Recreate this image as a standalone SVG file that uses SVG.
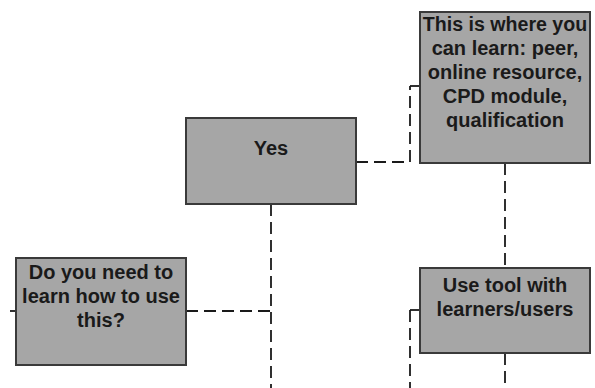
<svg xmlns="http://www.w3.org/2000/svg" width="595" height="388" viewBox="0 0 595 388">
<style>
.box{fill:#a6a6a6;stroke:#3a3a3a;stroke-width:2}
.t{font-family:"Liberation Sans",Arial,sans-serif;font-weight:bold;font-size:20px;fill:#1a1a1a;text-anchor:middle}
.c{fill:none;stroke:#1a1a1a;stroke-width:1.8;stroke-dasharray:12 6}
.s{fill:none;stroke:#1a1a1a;stroke-width:1.8}
</style>
<rect width="595" height="388" fill="#ffffff"/>
<g id="connectors">
<path class="s" d="M10,311 H16"/>
<path class="c" d="M186,311 H271"/>
<path class="c" d="M271,204 V388"/>
<path class="c" d="M356,162 H410 V86"/>
<path class="s" d="M410,86 H420"/>
<path class="c" d="M505,163 V268"/>
<path class="s" d="M420,310 H410"/>
<path class="c" d="M410,310 V388"/>
<path class="c" d="M505,353 V388"/>
</g>
<g id="node-learn">
<rect class="box" x="16" y="258" width="170" height="107"/>
<text class="t" x="101" y="279">Do you need to</text>
<text class="t" x="101" y="303">learn how to use</text>
<text class="t" x="101" y="327">this?</text>
</g>
<g id="node-yes">
<rect class="box" x="186" y="118" width="170" height="86"/>
<text class="t" x="271" y="155">Yes</text>
</g>
<g id="node-where">
<rect class="box" x="420" y="12" width="170" height="151"/>
<text class="t" x="505" y="31" style="font-size:19.6px">This is where you</text>
<text class="t" x="505" y="55">can learn: peer,</text>
<text class="t" x="505" y="79">online resource,</text>
<text class="t" x="505" y="103">CPD module,</text>
<text class="t" x="505" y="127">qualification</text>
</g>
<g id="node-use">
<rect class="box" x="420" y="268" width="170" height="85"/>
<text class="t" x="505" y="292">Use tool with</text>
<text class="t" x="505" y="316">learners/users</text>
</g>
</svg>
